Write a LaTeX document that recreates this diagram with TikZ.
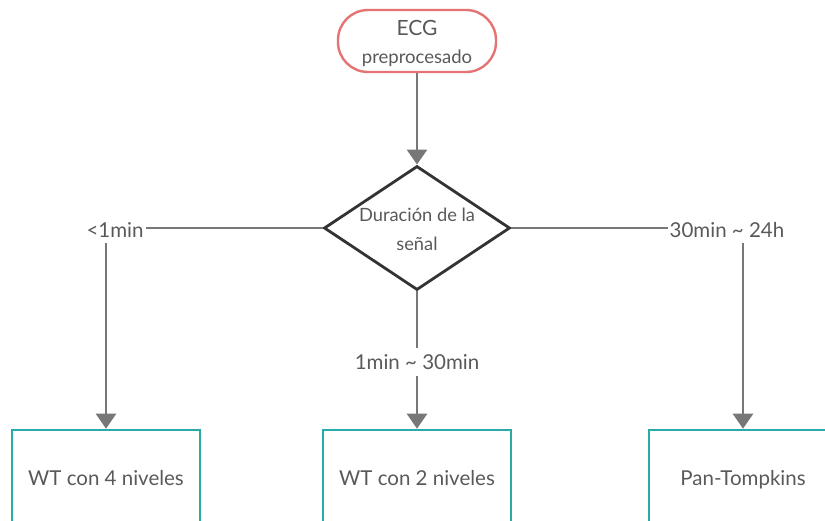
\documentclass[tikz,border=0pt]{standalone}
\usepackage{fontspec}
\setmainfont{Lato}
\usetikzlibrary{shapes.geometric,arrows.meta}
\definecolor{linegray}{HTML}{777777}
\definecolor{txtgray}{HTML}{595959}
\definecolor{salmon}{HTML}{E57373}
\definecolor{tealc}{HTML}{2AABAB}
\definecolor{darkline}{HTML}{333333}
\tikzset{
  conn/.style={draw=linegray, line width=2.6pt},
  arr/.style={conn, -{Triangle[length=15pt,width=20pt]}},
  lbl/.style={text=txtgray, font=\fontsize{20.5}{24}\selectfont, inner sep=2pt, text height=14pt, text depth=0pt},
  procbox/.style={draw=tealc, line width=2.6pt, minimum width=188pt, minimum height=96pt, inner sep=0pt, text=txtgray, font=\fontsize{20.5}{24}\selectfont, text height=14pt, text depth=0pt},
}
\begin{document}
\begin{tikzpicture}[x=1pt,y=-1pt]
\useasboundingbox (0,0) rectangle (825,520);
\clip (0,0) rectangle (825,520);
\node[draw=salmon, line width=2.4pt, rounded corners=30pt, minimum width=158pt, minimum height=62pt, inner sep=0pt] (ecg) at (417,41) {};
\node[text=txtgray, font=\fontsize{21}{24}\selectfont] (ecgt) at (417,28) {ECG};
\node[text=txtgray, font=\fontsize{18.5}{20}\selectfont] (ecgp) at (417,58) {preprocesado};
\node[draw=darkline, line width=2.8pt, shape=diamond, minimum width=186pt, minimum height=124pt, inner sep=0pt] (dia) at (417,228) {};
\node[text=txtgray, font=\fontsize{18.3}{29}\selectfont, align=center] (diat) at (417,229) {Duración de la\\señal};
\node[lbl] (l1) at (115,230) {<1min};
\node[lbl] (l3) at (727,230) {30min \textasciitilde{} 24h};
\node[lbl, inner sep=7pt] (l2) at (417,362) {1min \textasciitilde{} 30min};
\node[procbox] (b1) at (106,478) {WT con 4 niveles};
\node[procbox] (b2) at (417,478) {WT con 2 niveles};
\node[procbox] (b3) at (743,478) {Pan-Tompkins};
\draw[arr] (ecg) -- (dia);
\draw[conn] (dia.west) -- (dia.west -| l1.east);
\draw[arr] (l1.south -| b1.north) ++(0,4) -- (b1.north);
\draw[conn] (dia.east) -- (dia.east -| l3.west);
\draw[arr] (l3.south -| b3.north) ++(0,4) -- (b3.north);
\draw[conn] (dia.south) -- (l2.north);
\draw[arr] (l2.south) -- (b2.north);
\end{tikzpicture}
\end{document}
